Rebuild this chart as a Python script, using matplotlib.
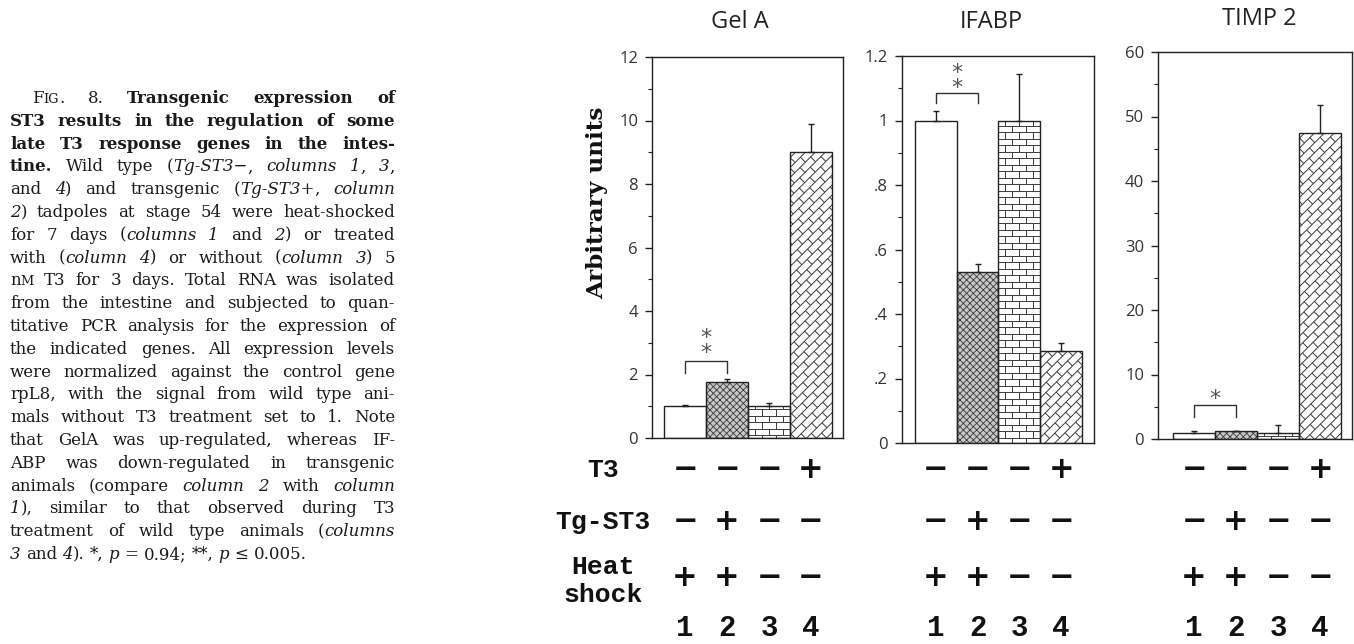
import numpy as np
import matplotlib
matplotlib.use("Agg")
import matplotlib.pyplot as plt
from matplotlib.collections import LineCollection
from matplotlib.transforms import IdentityTransform, blended_transform_factory

W, H = 1354, 644

# values
columns = [1, 2, 3, 4]
genes = ["Gel A", "IFABP", "TIMP 2"]

gela_mean = [1.0, 1.75, 1.0, 9.0]
gela_sem = [0.03, 0.10, 0.10, 0.90]
ifabp_mean = [1.0, 0.53, 1.0, 0.285]
ifabp_sem = [0.03, 0.025, 0.145, 0.025]
timp_mean = [1.0, 1.2, 1.0, 47.5]
timp_sem = [0.2, 0.1, 1.2, 4.3]

gela_ticks = [0, 2, 4, 6, 8, 10, 12]
gela_ticklabels = ["0", "2", "4", "6", "8", "10", "12"]
ifabp_ticks = [0, 0.2, 0.4, 0.6, 0.8, 1.0, 1.2]
ifabp_ticklabels = ["0", ".2", ".4", ".6", ".8", "1", "1.2"]
timp_ticks = [0, 10, 20, 30, 40, 50, 60]
timp_ticklabels = ["0", "10", "20", "30", "40", "50", "60"]

significance = ["**", "**", "*"]  # column 1 vs column 2

row_labels = ["T3", "Tg-ST3", "Heat\nshock"]
t3_signs = ["−", "−", "−", "+"]
tg_signs = ["−", "+", "−", "−"]
heat_signs = ["+", "+", "−", "−"]

caption = [
    [("r", "F"), ("sc", "IG"), ("r", ". 8. "), ("b", "Transgenic expression of")],
    [("b", "ST3 results in the regulation of some")],
    [("b", "late T3 response genes in the intes-")],
    [("b", "tine."), ("r", " Wild type ("), ("i", "Tg-ST3−"), ("r", ", "), ("i", "columns 1"),
     ("r", ", "), ("i", "3"), ("r", ",")],
    [("r", "and "), ("i", "4"), ("r", ") and transgenic ("), ("i", "Tg-ST3+"), ("r", ", "), ("i", "column")],
    [("i", "2"), ("r", ") tadpoles at stage 54 were heat-shocked")],
    [("r", "for 7 days ("), ("i", "columns 1"), ("r", " and "), ("i", "2"), ("r", ") or treated")],
    [("r", "with ("), ("i", "column 4"), ("r", ") or without ("), ("i", "column 3"), ("r", ") 5")],
    [("r", "n"), ("sc", "M"), ("r", " T3 for 3 days. Total RNA was isolated")],
    [("r", "from the intestine and subjected to quan-")],
    [("r", "titative PCR analysis for the expression of")],
    [("r", "the indicated genes. All expression levels")],
    [("r", "were normalized against the control gene")],
    [("r", "rpL8, with the signal from wild type ani-")],
    [("r", "mals without T3 treatment set to 1. Note")],
    [("r", "that GelA was up-regulated, whereas IF-")],
    [("r", "ABP was down-regulated in transgenic")],
    [("r", "animals (compare "), ("i", "column 2"), ("r", " with "), ("i", "column")],
    [("i", "1"), ("r", "), similar to that observed during T3")],
    [("r", "treatment of wild type animals ("), ("i", "columns")],
    [("i", "3"), ("r", " and "), ("i", "4"), ("r", "). *, "), ("i", "p"), ("r", " = 0.94; **, "),
     ("i", "p"), ("r", " ≤ 0.005.")],
]

# layout (pixels in the 1354x644 picture)
panels = [
    dict(mean=gela_mean, sem=gela_sem, ticks=gela_ticks, labels=gela_ticklabels, top=12, minor=1,
         box=(652, 57, 843, 438), xlim=(0.214, 4.762), title_xy=(740, 22),
         bracket=(2.05, 2.43), star_y=3.1),
    dict(mean=ifabp_mean, sem=ifabp_sem, ticks=ifabp_ticks, labels=ifabp_ticklabels, top=1.2, minor=0.1,
         box=(902, 56, 1094, 443), xlim=(0.19, 4.787), title_xy=(991, 22),
         bracket=(1.055, 1.086), star_y=1.143),
    dict(mean=timp_mean, sem=timp_sem, ticks=timp_ticks, labels=timp_ticklabels, top=60, minor=5,
         box=(1158, 52, 1352, 439), xlim=(0.143, 4.76), title_xy=(1259, 19),
         bracket=(3.4, 5.3), star_y=7.1),
]

plt.rcParams['font.family'] = ['Open Sans', 'DejaVu Sans']
plt.rcParams['hatch.linewidth'] = 0.6
plt.rcParams['hatch.color'] = '#3a3a3a'

fig = plt.figure(figsize=(W / 100, H / 100), dpi=100)
renderer = fig.canvas.get_renderer()


def px(x, y):
    return x, H - y


def brick_fill(ax, bar, row_h, brick_w, angle):
    bb = bar.get_window_extent()
    cx, cy = (bb.x0 + bb.x1) / 2, (bb.y0 + bb.y1) / 2
    R = np.hypot(bb.width, bb.height) / 2 + 2 * row_h
    th = np.radians(angle)
    u = np.array([np.cos(th), np.sin(th)])
    v = np.array([-np.sin(th), np.cos(th)])
    c = np.array([cx, cy])
    segs = []
    nr = int(R / row_h) + 2
    nb = int(R / brick_w) + 2
    for k in range(-nr, nr + 1):
        vv = k * row_h
        segs.append([c - R * u + vv * v, c + R * u + vv * v])
        off = (k % 2) * brick_w / 2
        for j in range(-nb, nb + 1):
            uu = j * brick_w + off
            segs.append([c + uu * u + vv * v, c + uu * u + (vv + row_h) * v])
    lc = LineCollection(segs, colors='#3a3a3a', linewidths=0.7, transform=IdentityTransform(), zorder=1.5)
    ax.add_collection(lc, autolim=False)
    lc.set_clip_path(bar.get_path(), bar.get_transform())


axes = []
for gene, sig, p in zip(genes, significance, panels):
    x0, y0, x1, y1 = p['box']
    ax = fig.add_axes([x0 / W, 1 - y1 / H, (x1 - x0) / W, (y1 - y0) / H])
    ax.set_xlim(*p['xlim'])
    ax.set_ylim(0, p['top'])
    axes.append(ax)

    bars = ax.bar(columns, p['mean'], width=1.0, color='white', edgecolor='none', zorder=1)
    bars[1].set_facecolor('#c8c8c8')
    ax.bar(columns[1], p['mean'][1], width=1.0, color='none', edgecolor='#3a3a3a', linewidth=0,
           hatch='xxxxx', zorder=1.4)
    brick_fill(ax, bars[2], 6.5, 14, 0)
    brick_fill(ax, bars[3], 7.0, 15, 45)
    ax.bar(columns, p['mean'], width=1.0, fill=False, edgecolor='#222222', linewidth=1.0, zorder=2.5)
    ax.errorbar(columns, p['mean'], yerr=[np.zeros(4), p['sem']], fmt='none', ecolor='#222222',
                elinewidth=1.0, capsize=2, capthick=1.0, zorder=3)

    lo, hi = p['bracket']
    ax.plot([1, 1, 2, 2], [lo, hi, hi, lo], color='#333333', lw=1.0, zorder=3)
    ax.annotate("\n".join(sig), xy=(1.5, p['star_y']), xytext=(0, -6), textcoords='offset pixels',
                ha='center', va='center', fontsize=16, color='#555555', family='DejaVu Sans',
                linespacing=0.68)

    ax.set_xticks([])
    ax.set_yticks(p['ticks'])
    ax.set_yticklabels(p['labels'])
    ax.set_yticks(np.arange(0, p['top'] + 1e-9, p['minor']), minor=True)
    ax.tick_params(axis='y', which='major', direction='out', length=5, width=1.0, pad=5,
                   labelsize=12, labelcolor='#333333', color='#222222')
    ax.tick_params(axis='y', which='minor', direction='out', length=3, width=0.8, color='#222222')
    for s in ax.spines.values():
        s.set_linewidth(1.0)
        s.set_color('#222222')

    tx, ty = p['title_xy']
    fig.text(*px(tx, ty), gene, transform=IdentityTransform(), ha='center', va='center',
             fontsize=17, color='#222222')

    # treatment table under each panel
    tr = blended_transform_factory(ax.transData, IdentityTransform())
    for signs, yy in [(t3_signs, 470), (tg_signs, 522), (heat_signs, 578)]:
        for c, s in zip(columns, signs):
            ax.text(c, H - yy, s, transform=tr, ha='center', va='center', fontsize=22,
                    fontweight='bold', family='DejaVu Sans', color='#111111', clip_on=False)
    for c in columns:
        ax.text(c, H - 636, str(c), transform=tr, ha='center', va='baseline', fontsize=21,
                fontweight='bold', family=['Liberation Mono', 'DejaVu Sans Mono'], color='#111111',
                clip_on=False)

for lab, yy in zip(row_labels, [470, 522, 581]):
    fig.text(*px(603, yy), lab, transform=IdentityTransform(), ha='center', va='center', fontsize=19,
             fontweight='bold', family=['Liberation Mono', 'DejaVu Sans Mono'], color='#111111',
             linespacing=1.25)


def fit_size(s, target, **kw):
    t = fig.text(0, 0, s, fontsize=20, **kw)
    w = t.get_window_extent(renderer).width
    t.remove()
    return 20 * target / w


ylab_kw = dict(family='DejaVu Serif', fontweight='bold')
fig.text(*px(597, 203), "Arbitrary units", transform=IdentityTransform(), rotation=90, ha='center',
         va='center', fontsize=fit_size("Arbitrary units", 193, **ylab_kw), color='#111111', **ylab_kw)


# justified caption on the left
def style_kw(style, size):
    kw = dict(family='DejaVu Serif', fontsize=size, color='#1a1a1a')
    if style == 'b':
        kw['fontweight'] = 'bold'
    elif style == 'i':
        kw['fontstyle'] = 'italic'
    elif style == 'sc':
        kw['fontsize'] = size * 0.78
    return kw


def width(s, style, size):
    t = fig.text(0, 0, s, **style_kw(style, size))
    w = t.get_window_extent(renderer).width
    t.remove()
    return w


def split_words(line):
    words = [[]]
    for style, text in line:
        parts = text.split(' ')
        for i, part in enumerate(parts):
            if i > 0:
                words.append([])
            if part:
                words[-1].append((style, part))
    return [w for w in words if w]


cap_left, cap_right, cap_indent = 10, 395, 32
cap_top, cap_step = 103, 22.8

size = 12.0
word_lines = [split_words(l) for l in caption]
space = width("x x", 'r', size) - width("xx", 'r', size)
nat = []
for i, wl in enumerate(word_lines):
    tot = sum(width(t, s, size) for w in wl for s, t in w) + space * (len(wl) - 1)
    avail = cap_right - cap_left - (cap_indent - cap_left if i == 0 else 0)
    nat.append(tot / avail)
size = size / max(1.0, max(nat) * 1.01)
space = width("x x", 'r', size) - width("xx", 'r', size)

for i, wl in enumerate(word_lines):
    x = cap_indent if i == 0 else cap_left
    widths = [[width(t, s, size) for s, t in w] for w in wl]
    total = sum(sum(ws) for ws in widths)
    if i == len(word_lines) - 1 or len(wl) == 1:
        gap = space
    else:
        gap = (cap_right - x - total) / (len(wl) - 1)
    yb = H - (cap_top + cap_step * i)
    for w, ws in zip(wl, widths):
        for (s, t), wpx in zip(w, ws):
            fig.text(x, yb, t, transform=IdentityTransform(), ha='left', va='baseline', **style_kw(s, size))
            x += wpx
        x += gap

fig.savefig("out.png", dpi=100)
